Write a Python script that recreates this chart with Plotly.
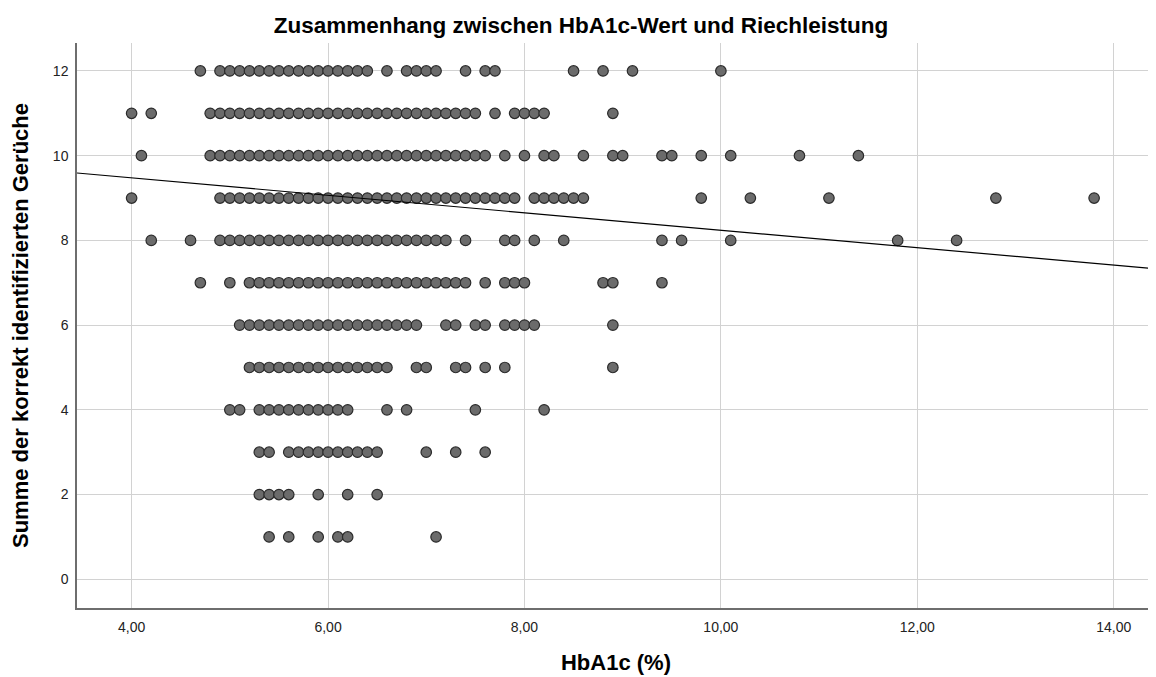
import plotly.graph_objects as go

# HbA1c values (%) observed at each odor-identification score
score_12 = [4.7, 4.9, 5.0, 5.1, 5.2, 5.3, 5.4, 5.5, 5.6, 5.7, 5.8, 5.9, 6.0, 6.1, 6.2, 6.3, 6.4,
            6.6, 6.8, 6.9, 7.0, 7.1, 7.4, 7.6, 7.7, 8.5, 8.8, 9.1, 10.0]
score_11 = [4.0, 4.2, 4.8, 4.9, 5.0, 5.1, 5.2, 5.3, 5.4, 5.5, 5.6, 5.7, 5.8, 5.9, 6.0, 6.1, 6.2,
            6.3, 6.4, 6.5, 6.6, 6.7, 6.8, 6.9, 7.0, 7.1, 7.2, 7.3, 7.4, 7.5, 7.7, 7.9, 8.0, 8.1,
            8.2, 8.9]
score_10 = [4.1, 4.8, 4.9, 5.0, 5.1, 5.2, 5.3, 5.4, 5.5, 5.6, 5.7, 5.8, 5.9, 6.0, 6.1, 6.2, 6.3,
            6.4, 6.5, 6.6, 6.7, 6.8, 6.9, 7.0, 7.1, 7.2, 7.3, 7.4, 7.5, 7.6, 7.8, 8.0, 8.2, 8.3,
            8.6, 8.9, 9.0, 9.4, 9.5, 9.8, 10.1, 10.8, 11.4]
score_9 = [4.0, 4.9, 5.0, 5.1, 5.2, 5.3, 5.4, 5.5, 5.6, 5.7, 5.8, 5.9, 6.0, 6.1, 6.2, 6.3, 6.4,
           6.5, 6.6, 6.7, 6.8, 6.9, 7.0, 7.1, 7.2, 7.3, 7.4, 7.5, 7.6, 7.7, 7.8, 7.9, 8.1, 8.2,
           8.3, 8.4, 8.5, 8.6, 9.8, 10.3, 11.1, 12.8, 13.8]
score_8 = [4.2, 4.6, 4.9, 5.0, 5.1, 5.2, 5.3, 5.4, 5.5, 5.6, 5.7, 5.8, 5.9, 6.0, 6.1, 6.2, 6.3,
           6.4, 6.5, 6.6, 6.7, 6.8, 6.9, 7.0, 7.1, 7.2, 7.4, 7.8, 7.9, 8.1, 8.4, 9.4, 9.6, 10.1,
           11.8, 12.4]
score_7 = [4.7, 5.0, 5.2, 5.3, 5.4, 5.5, 5.6, 5.7, 5.8, 5.9, 6.0, 6.1, 6.2, 6.3, 6.4, 6.5, 6.6,
           6.7, 6.8, 6.9, 7.0, 7.1, 7.2, 7.3, 7.4, 7.6, 7.8, 7.9, 8.0, 8.8, 8.9, 9.4]
score_6 = [5.1, 5.2, 5.3, 5.4, 5.5, 5.6, 5.7, 5.8, 5.9, 6.0, 6.1, 6.2, 6.3, 6.4, 6.5, 6.6, 6.7,
           6.8, 6.9, 7.2, 7.3, 7.5, 7.6, 7.8, 7.9, 8.0, 8.1, 8.9]
score_5 = [5.2, 5.3, 5.4, 5.5, 5.6, 5.7, 5.8, 5.9, 6.0, 6.1, 6.2, 6.3, 6.4, 6.5, 6.6, 6.9, 7.0,
           7.3, 7.4, 7.6, 7.8, 8.9]
score_4 = [5.0, 5.1, 5.3, 5.4, 5.5, 5.6, 5.7, 5.8, 5.9, 6.0, 6.1, 6.2, 6.6, 6.8, 7.5, 8.2]
score_3 = [5.3, 5.4, 5.6, 5.7, 5.8, 5.9, 6.0, 6.1, 6.2, 6.3, 6.4, 6.5, 7.0, 7.3, 7.6]
score_2 = [5.3, 5.4, 5.5, 5.6, 5.9, 6.2, 6.5]
score_1 = [5.4, 5.6, 5.9, 6.1, 6.2, 7.1]

scores = [12, 11, 10, 9, 8, 7, 6, 5, 4, 3, 2, 1]
hba1c_by_score = [score_12, score_11, score_10, score_9, score_8, score_7,
                  score_6, score_5, score_4, score_3, score_2, score_1]

# Linear fit line
fit_intercept = 10.30
fit_slope = -0.206

x_ticks = [4, 6, 8, 10, 12, 14]
y_ticks = [0, 2, 4, 6, 8, 10, 12]

x_range = [3.444, 14.42]
y_range = [-0.678, 12.66]

xs, ys = [], []
for s, vals in zip(scores, hba1c_by_score):
    xs.extend(vals)
    ys.extend([s] * len(vals))

fig = go.Figure()
fig.add_trace(go.Scatter(
    x=xs, y=ys, mode="markers",
    marker=dict(size=10.5, color="#6b6b6b", line=dict(color="#2b2b2b", width=1.2)),
    showlegend=False, hoverinfo="x+y",
))
fit_x = x_range
fit_y = [fit_intercept + fit_slope * v for v in fit_x]
fig.add_trace(go.Scatter(
    x=fit_x, y=fit_y, mode="lines",
    line=dict(color="#000000", width=1.2),
    showlegend=False, hoverinfo="skip",
))

# The page body has an 8px default margin, so the figure is sized/offset to compensate
W, H = 1148, 669
font_family = "Liberation Sans, Arial, sans-serif"
fig.update_layout(
    width=W, height=H,
    margin=dict(l=69, r=1, t=35, b=69),
    paper_bgcolor="white", plot_bgcolor="white",
    separators=",.",
    font=dict(family=font_family, color="#222222"),
    title=dict(
        text="<b>Zusammenhang zwischen HbA1c-Wert und Riechleistung</b>",
        x=573 / W, xref="container", xanchor="center",
        y=1 - 17 / H, yref="container", yanchor="middle",
        font=dict(size=22.5, color="#000000", family=font_family),
    ),
    xaxis=dict(
        range=x_range, tickvals=x_ticks, tickformat=".2f",
        showgrid=True, gridcolor="#d2d2d2", gridwidth=1,
        zeroline=False, showline=True, linecolor="#6e6e6e", linewidth=1.5,
        ticks="", ticklabelstandoff=5,
        tickfont=dict(size=14, color="#222222"),
        title=dict(text="<b>HbA1c (%)</b>", standoff=21,
                   font=dict(size=22, color="#000000")),
    ),
    yaxis=dict(
        range=y_range, tickvals=y_ticks,
        showgrid=True, gridcolor="#d2d2d2", gridwidth=1,
        zeroline=False, showline=True, linecolor="#6e6e6e", linewidth=1.5,
        ticks="", ticklabelstandoff=4,
        tickfont=dict(size=14, color="#222222"),
        title=dict(text="<b>Summe der korrekt identifizierten Gerüche</b>", standoff=18,
                   font=dict(size=22, color="#000000")),
    ),
)

fig.write_html("out.html")
